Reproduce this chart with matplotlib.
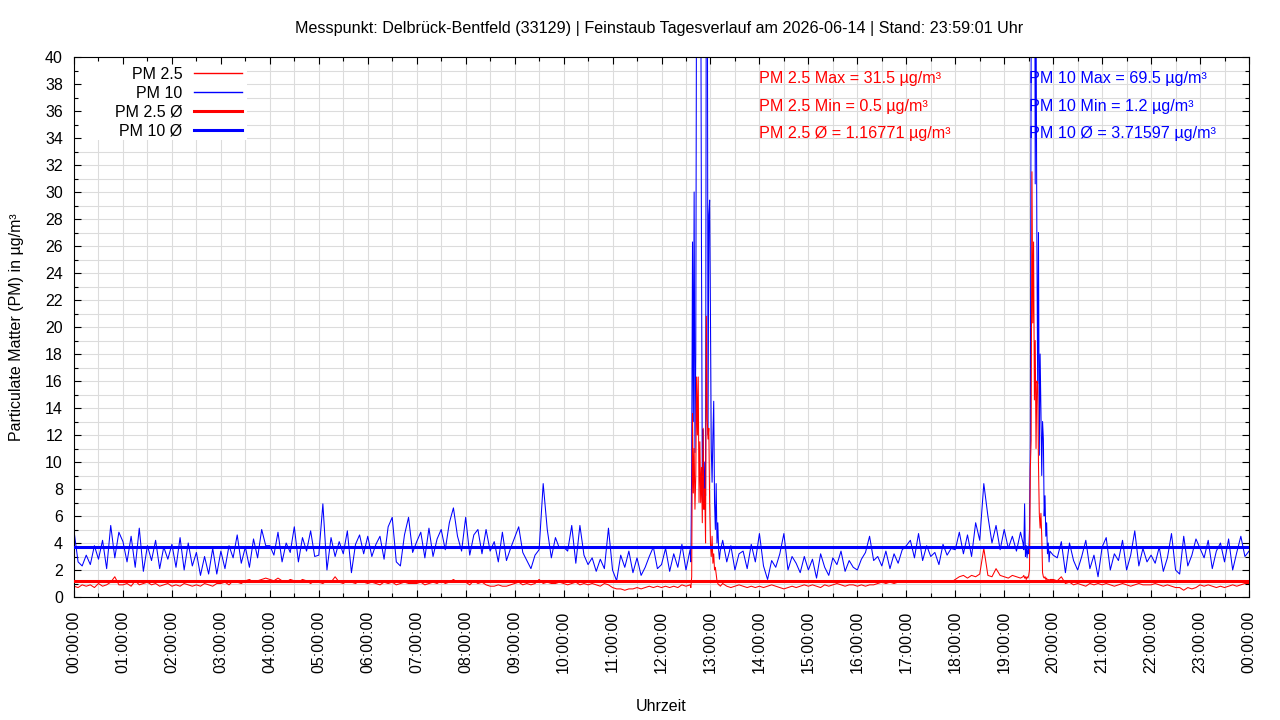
import numpy as np
import matplotlib.pyplot as plt
from matplotlib.ticker import MultipleLocator
from matplotlib.patches import Rectangle

plt.rcParams['font.family'] = ['Liberation Sans', 'DejaVu Sans']

nan = np.nan

title = "Messpunkt: Delbrück-Bentfeld (33129) | Feinstaub Tagesverlauf am 2026-06-14 | Stand: 23:59:01 Uhr"
x_title = "Uhrzeit"
y_title = "Particulate Matter (PM) in µg/m³"
hour_labels = ["%02d:00:00" % (h % 24) for h in range(25)]

# values every 5 minutes from 00:00 to 24:00, nan where the minute values below take over
pm10_base = [
    4.9, 2.6, 2.3, 3.1, 2.4, 3.8, 2.8, 4.2, 2.1, 5.3, 2.9, 4.8,
    4.1, 2.6, 4.5, 2.2, 5.1, 1.9, 3.8, 2.7, 4.2, 2.1, 3.7, 2.8,
    3.9, 2.2, 4.4, 2.0, 4.0, 2.3, 3.3, 1.6, 3.0, 1.7, 3.6, 1.7,
    3.4, 2.1, 3.8, 2.9, 4.6, 2.5, 3.7, 2.2, 4.3, 2.9, 5.0, 3.8,
    3.8, 3.1, 4.8, 2.6, 4.0, 3.3, 5.2, 2.6, 4.4, 3.4, 4.9, 3.0,
    3.1, 6.9, 2.0, 4.4, 3.0, 4.1, 3.2, 4.9, 1.8, 3.9, 4.6, 3.2,
    4.5, 3.0, 3.9, 4.5, 2.8, 5.2, 5.9, 2.6, 2.3, 4.6, 5.9, 3.3,
    4.1, 4.8, 2.9, 5.1, 3.0, 4.3, 5.0, 3.5, 5.5, 6.6, 4.5, 3.4,
    5.9, 3.1, 4.6, 5.0, 3.2, 5.0, 3.4, 4.1, 2.6, 4.8, 2.7, 3.6,
    4.4, 5.2, 3.3, 2.7, 2.1, 3.1, 3.5, 8.4, 5.0, 2.9, 4.4, 3.6,
    3.7, 3.4, 5.3, 2.5, 5.3, 3.1, 2.4, 2.9, 1.9, 2.8, 2.1, 5.1,
    2.0, 1.2, 3.1, 2.2, 3.4, 1.8, 2.9, 1.6, 2.2, 3.0, 3.7, 2.1,
    2.4, 3.6, 1.9, 3.2, 2.2, 3.9, 2.0, 3.5, nan, nan, nan, nan,
    nan, nan, nan, 4.2, 2.6, 3.8, 2.0, 3.2, 3.4, 2.1, 3.9, 2.6,
    4.7, 2.3, 1.3, 2.7, 2.2, 3.2, 4.7, 2.0, 3.0, 2.5, 1.8, 3.0,
    2.0, 2.8, 1.4, 3.2, 2.2, 1.6, 2.9, 2.4, 3.4, 1.9, 2.7, 2.2,
    2.0, 2.8, 3.3, 4.5, 2.7, 3.0, 2.3, 3.4, 2.1, 3.2, 2.5, 3.5,
    3.8, 4.2, 2.9, 4.7, 2.7, 3.8, 3.0, 3.3, 2.4, 3.9, 3.1, 3.6,
    3.5, 4.8, 3.2, 4.6, 3.0, 5.5, 4.2, 8.4, 6.0, 4.0, 5.3, 3.5,
    5.0, 3.6, 4.5, 3.4, 4.8, nan, nan, nan, nan, nan, nan, nan,
    3.1, 2.9, 4.1, 1.8, 4.0, 2.7, 2.0, 3.0, 4.2, 2.1, 3.1, 1.5,
    3.7, 4.4, 2.0, 3.2, 2.7, 4.2, 2.0, 3.1, 4.9, 2.3, 3.6, 2.6,
    3.1, 2.5, 3.7, 1.9, 2.9, 4.7, 2.0, 1.7, 4.5, 2.3, 3.1, 4.3,
    3.6, 2.9, 4.2, 2.1, 3.4, 4.0, 2.6, 4.3, 2.0, 3.3, 4.5, 3.0,
    3.4,
]
pm25_base = [
    0.8, 0.7, 0.9, 0.8, 0.9, 0.7, 1.0, 0.8, 0.9, 1.1, 1.5, 0.9,
    0.9, 1.0, 0.8, 1.2, 0.9, 1.0, 1.1, 0.9, 1.0, 0.8, 0.9, 1.0,
    0.8, 0.9, 0.8, 1.0, 0.9, 0.8, 0.9, 0.8, 1.0, 0.9, 0.8, 1.0,
    1.0, 1.1, 0.9, 1.2, 1.1, 1.0, 1.2, 1.3, 1.1, 1.2, 1.3, 1.4,
    1.3, 1.2, 1.4, 1.2, 1.1, 1.3, 1.2, 1.1, 1.3, 1.2, 1.0, 1.2,
    1.1, 1.0, 1.2, 1.1, 1.5, 1.1, 1.0, 1.2, 1.1, 1.0, 1.2, 1.1,
    1.0, 1.1, 1.0, 0.9, 1.1, 1.0, 1.1, 0.9, 1.0, 1.1, 1.0, 1.0,
    1.0, 1.1, 0.9, 1.0, 1.1, 1.0, 1.2, 1.0, 1.1, 1.3, 1.1, 1.2,
    1.1, 0.9, 1.2, 1.0, 1.1, 0.9, 0.8, 0.8, 0.9, 0.8, 0.8, 0.9,
    1.0, 1.1, 0.9, 1.0, 0.9, 1.0, 1.3, 1.0, 1.1, 1.0, 1.0, 1.1,
    1.0, 0.9, 1.0, 1.1, 0.9, 1.0, 0.9, 1.0, 0.9, 0.8, 1.0, 0.9,
    0.7, 0.6, 0.6, 0.5, 0.6, 0.6, 0.7, 0.6, 0.7, 0.8, 0.7, 0.8,
    0.7, 0.8, 0.7, 0.8, 0.7, 0.9, 0.8, 0.9, nan, nan, nan, nan,
    nan, nan, nan, 1.0, 0.8, 0.7, 0.8, 0.9, 0.8, 0.7, 0.8, 0.7,
    0.8, 0.7, 0.8, 0.9, 0.8, 0.7, 0.6, 0.7, 0.8, 0.7, 0.8, 0.9,
    0.8, 0.9, 0.8, 0.7, 0.9, 0.8, 0.9, 1.0, 0.9, 0.8, 0.9, 0.9,
    0.8, 0.9, 0.8, 0.9, 0.9, 1.0, 1.1, 1.0, 1.1, 1.0, 1.1, 1.1,
    1.1, 1.2, 1.1, 1.2, 1.1, 1.2, 1.1, 1.2, 1.1, 1.2, 1.2, 1.1,
    1.3, 1.5, 1.6, 1.4, 1.6, 1.5, 1.7, 3.6, 1.6, 1.5, 2.1, 1.6,
    1.5, 1.4, 1.6, 1.5, 1.4, nan, nan, nan, nan, nan, nan, nan,
    1.3, 1.2, 1.5, 1.0, 1.1, 0.9, 1.0, 0.9, 0.8, 1.0, 0.9, 1.0,
    0.9, 1.0, 0.9, 0.8, 0.9, 1.0, 0.9, 0.8, 0.9, 1.0, 0.9, 0.9,
    0.9, 1.0, 0.9, 0.8, 0.9, 0.8, 0.7, 0.7, 0.5, 0.7, 0.6, 0.7,
    0.9, 0.8, 0.9, 0.8, 0.7, 0.8, 0.7, 0.8, 0.9, 0.8, 0.9, 1.0,
    1.0,
]

# minute values around the two dust events (12:36-13:12 and 19:23-19:56)
event1_minutes = list(range(756, 793))
pm10_event1 = [2.6, 9.9, 26.3, 13.0, 30.0, 10.7, 18.0, 48.0, 69.5, 55.0, 62.0, 45.0,
               50.0, 25.4, 9.0, 12.4, 6.5, 10.0, 7.5, 52.0, 58.0, 12.0, 28.3, 29.4,
               20.8, 11.0, 8.5, 12.0, 14.5, 7.0, 5.0, 8.4, 4.0, 5.5, 3.5, 2.8, 3.4]
pm25_event1 = [0.7, 1.5, 13.6, 7.7, 11.0, 6.5, 9.0, 16.3, 12.0, 16.3, 7.0, 11.5,
               7.0, 9.6, 5.5, 12.5, 6.5, 8.0, 4.0, 20.8, 13.2, 11.7, 12.5, 7.0,
               4.0, 3.0, 4.5, 2.5, 3.2, 2.0, 2.2, 1.7, 1.2, 1.0, 0.9, 0.9, 0.8]
event2_minutes = list(range(1163, 1197))
pm10_event2 = [4.0, 3.5, 6.9, 3.0, 3.8, 2.9, 3.6, 3.2, 5.0, 11.6, 42.0, 58.0,
               69.5, 47.0, 62.0, 30.6, 44.0, 26.9, 15.8, 27.0, 10.5, 18.0, 13.8, 9.0,
               13.0, 11.7, 6.0, 7.5, 4.5, 5.5, 3.2, 4.0, 2.6, 3.4]
pm25_event2 = [1.5, 1.6, 1.4, 1.5, 1.3, 1.5, 1.4, 1.6, 2.0, 9.5, 11.6, 31.5,
               20.3, 26.3, 14.6, 19.0, 11.0, 16.0, 15.8, 9.8, 6.2, 5.1, 6.2, 4.5,
               1.8, 1.5, 1.4, 1.5, 1.3, 1.4, 1.2, 1.3, 1.2, 1.3]

pm25_max, pm25_min, pm25_avg = 31.5, 0.5, 1.16771
pm10_max, pm10_min, pm10_avg = 69.5, 1.2, 3.71597


def series(base, events):
    t = np.arange(len(base)) * 5.0
    v = np.array(base, dtype=float)
    keep = ~np.isnan(v)
    ts = [t[keep]] + [np.array(m, dtype=float) for m, _ in events]
    vs = [v[keep]] + [np.array(x, dtype=float) for _, x in events]
    ts = np.concatenate(ts)
    vs = np.concatenate(vs)
    o = np.argsort(ts)
    return ts[o], vs[o]


t10, v10 = series(pm10_base, [(event1_minutes, pm10_event1), (event2_minutes, pm10_event2)])
t25, v25 = series(pm25_base, [(event1_minutes, pm25_event1), (event2_minutes, pm25_event2)])

red = '#ff0000'
blue = '#0000ff'

fig = plt.figure(figsize=(12.8, 7.2), dpi=100)
ax = fig.add_axes([74 / 1280, 1 - 597 / 720, 1175 / 1280, 540 / 720])
ax.set_xlim(0, 1440)
ax.set_ylim(0, 40)

# grid every half hour and every unit
for x in np.arange(30, 1440, 30):
    ax.axvline(x, color='#dcdcdc', lw=0.8, zorder=0.3)
for y in np.arange(1, 40, 1):
    ax.axhline(y, color='#dcdcdc', lw=0.8, zorder=0.3)

# white box behind the key, like gnuplot
ax.add_patch(Rectangle((0, 0.846), 0.147, 0.154, transform=ax.transAxes,
                       facecolor='white', edgecolor='none', zorder=0.4))

l25, = ax.plot(t25, v25, color=red, lw=0.75, zorder=2.1, label='PM 2.5')
l10, = ax.plot(t10, v10, color=blue, lw=0.75, zorder=2, label='PM 10')
a25 = ax.axhline(pm25_avg, color=red, lw=2.2, zorder=3, label='PM 2.5 Ø')
a10 = ax.axhline(pm10_avg, color=blue, lw=2.2, zorder=3, label='PM 10 Ø')

leg = ax.legend(handles=[l25, l10, a25, a10], loc='upper right', bbox_to_anchor=(0.143, 0.982),
                frameon=False, markerfirst=False, fontsize=11.5, handlelength=3.0,
                handletextpad=0.75, labelspacing=0.24, borderpad=0, borderaxespad=0)
for h in leg.legend_handles[:2]:
    h.set_linewidth(1.0)

stat_font = 11.6
ax.text(14 * 60, 38.4, "PM 2.5 Max = %s µg/m³" % pm25_max, color=red, va='center', fontsize=stat_font, zorder=4)
ax.text(14 * 60, 36.35, "PM 2.5 Min = %s µg/m³" % pm25_min, color=red, va='center', fontsize=stat_font, zorder=4)
ax.text(14 * 60, 34.35, "PM 2.5 Ø = %s µg/m³" % pm25_avg, color=red, va='center', fontsize=stat_font, zorder=4)
ax.text(19.5 * 60, 38.4, "PM 10 Max = %s µg/m³" % pm10_max, color=blue, va='center', fontsize=stat_font, zorder=4)
ax.text(19.5 * 60, 36.35, "PM 10 Min = %s µg/m³" % pm10_min, color=blue, va='center', fontsize=stat_font, zorder=4)
ax.text(19.5 * 60, 34.35, "PM 10 Ø = %s µg/m³" % pm10_avg, color=blue, va='center', fontsize=stat_font, zorder=4)

ax.set_xticks(np.arange(0, 1441, 60))
ax.set_xticklabels(hour_labels, rotation=90)
ax.xaxis.set_minor_locator(MultipleLocator(30))
ax.yaxis.set_major_locator(MultipleLocator(2))
ax.yaxis.set_minor_locator(MultipleLocator(1))
ax.tick_params(which='both', direction='in', top=True, right=True, width=0.8)
ax.tick_params(which='major', length=5)
ax.tick_params(which='minor', length=3)
ax.tick_params(axis='x', labelsize=11.5, pad=10)
ax.tick_params(axis='y', labelsize=11.5, pad=8)
for s in ax.spines.values():
    s.set_linewidth(0.8)

ax.set_xlabel(x_title, fontsize=11.5)
ax.xaxis.set_label_coords(0.5, -0.202)
ax.xaxis.label.set_va('center')
ax.set_ylabel(y_title, fontsize=11.5)
ax.yaxis.set_label_coords(-0.049, 0.5)
ax.yaxis.label.set_va('center')

fig.text(659 / 1280, 1 - 28 / 720, title, ha='center', va='center', fontsize=11.6)

fig.savefig('out.png', dpi=100)
